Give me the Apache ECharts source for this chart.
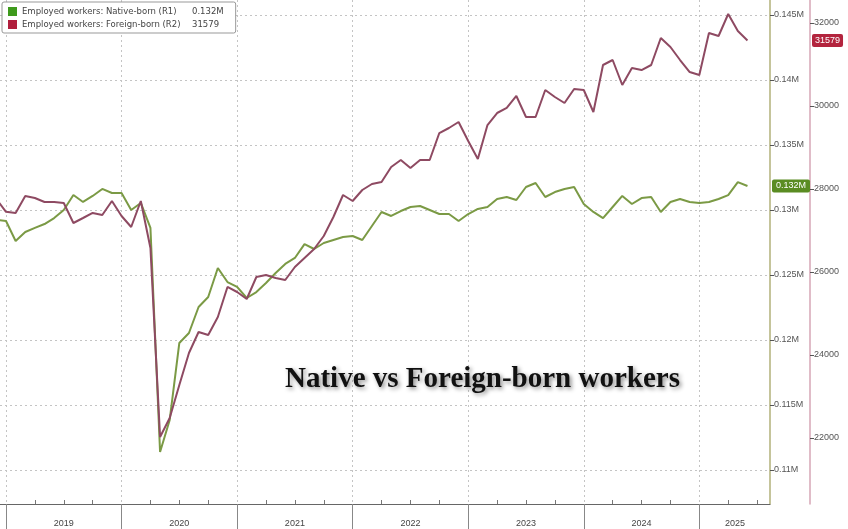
<!DOCTYPE html>
<html><head><meta charset="utf-8">
<script src="https://cdn.jsdelivr.net/npm/echarts@6/dist/echarts.min.js"></script>
<style>html,body{margin:0;padding:0;background:#fff}#c{width:848px;height:529px}</style>
</head><body><div id="c"></div>
<script>
// Months: Nov 2018 .. May 2025 (points plotted at month end; Dec 2018 end = start of 2019)
const nativeName = 'Employed workers: Native-born (R1)';
const foreignName = 'Employed workers: Foreign-born (R2)';
const firstMonthOffset = -1; // Nov 2018 sits one month before the 2019 boundary

const native = [
  0.12925, 0.12915,
  0.12762,0.12831,0.12862,0.12892,0.12938,0.13000,0.13115,0.13062,0.13108,0.13162,0.13131,0.13131,
  0.13000,0.13054,0.12862,0.11138,0.11385,0.11977,0.12054,0.12254,0.12331,0.12554,0.12446,0.12408,
  0.12323,0.12369,0.12438,0.12515,0.12585,0.12631,0.12738,0.12700,0.12746,0.12769,0.12792,0.12800,
  0.12769,0.12877,0.12985,0.12954,0.12992,0.13023,0.13031,0.13000,0.12969,0.12969,0.12915,0.12969,
  0.13008,0.13023,0.13085,0.13100,0.13077,0.13177,0.13208,0.13100,0.13138,0.13162,0.13177,0.13046,
  0.12985,0.12938,0.13023,0.13108,0.13046,0.13092,0.13100,0.12985,0.13062,0.13085,0.13062,0.13054,
  0.13062,0.13085,0.13115,0.13215,0.13185
];
const foreign = [
  27760, 27450,
  27422,27831,27783,27687,27687,27663,27181,27301,27422,27373,27711,27349,
  27084,27711,26578,22024,22482,23277,24048,24554,24482,24916,25639,25518,
  25350,25880,25928,25855,25807,26120,26337,26554,26867,27325,27855,27711,
  27976,28120,28169,28530,28699,28506,28699,28699,29349,29470,29614,29157,
  28723,29542,29831,29952,30241,29735,29735,30386,30217,30072,30410,30386,
  29855,30988,31108,30506,30916,30867,30988,31639,31422,31108,30819,30747,
  31759,31687,32217,31807,31579
];
const years = ['2019','2020','2021','2022','2023','2024','2025'];
const yearBoundaries = [0,12,24,36,48,60,72];
const yearLabelPos = [6,18,30,42,54,66,75.7];
const quarterTicks = [3,6,9,15,18,21,27,30,33,39,42,45,51,54,57,63,66,69,75,78];
const nativeTicks = [0.11,0.115,0.12,0.125,0.13,0.135,0.14,0.145];
const foreignTicks = [22000,24000,26000,28000,30000,32000];

const toPts = arr => arr.map((v, i) => [i + firstMonthOffset, v]);
const fmtN = v => String(+(+v).toFixed(3)) + 'M';
const lastN = native[native.length - 1];
const lastF = foreign[foreign.length - 1];

const chart = echarts.init(document.getElementById('c'));
const labelFont = 'Liberation Sans';
chart.setOption({
  animation: false,
  backgroundColor: '#fff',
  grid: { left: 0, right: 78, top: 0, bottom: 25, containLabel: false },
  title: {
    text: 'Native vs Foreign-born workers',
    left: 280, top: 360,
    textStyle: {
      fontFamily: 'Liberation Serif', fontWeight: 'bold', fontSize: 29, color: '#111',
      textShadowColor: 'rgba(0,0,0,0.45)', textShadowBlur: 4, textShadowOffsetX: 2, textShadowOffsetY: 2
    }
  },
  legend: {
    left: 2, top: 2, orient: 'vertical',
    backgroundColor: '#fff', borderColor: '#999', borderWidth: 1, borderRadius: 2,
    padding: [5, 12, 4, 6], itemGap: 4, itemWidth: 9, itemHeight: 9, icon: 'rect',
    data: [
      { name: nativeName, itemStyle: { color: '#3e9a1c' } },
      { name: foreignName, itemStyle: { color: '#b01e3c' } }
    ],
    formatter: name => {
      const v = name === nativeName ? fmtN(lastN) : String(Math.round(lastF));
      return '{n|' + name + '}{v|' + v + '}';
    },
    textStyle: {
      rich: {
        n: { width: 170, fontSize: 8.5, color: '#444', fontFamily: 'DejaVu Sans' },
        v: { fontSize: 8.5, color: '#444', fontFamily: 'DejaVu Sans' }
      }
    }
  },
  xAxis: [
    {
      type: 'value', min: -0.623, max: 79.34, position: 'bottom',
      axisLine: { show: true, onZero: false, lineStyle: { color: '#666', width: 1 } },
      axisTick: { show: true, customValues: yearBoundaries, length: 25, inside: false, lineStyle: { color: '#888' } },
      axisLabel: {
        show: true, customValues: yearLabelPos, margin: 15, color: '#444', fontSize: 9, fontFamily: labelFont,
        formatter: v => years[Math.floor(v / 12)]
      },
      splitLine: { show: true, lineStyle: { color: '#c4c4c4', type: [2, 3], width: 1 } }
    },
    {
      type: 'value', min: -0.623, max: 79.34, position: 'bottom',
      axisLine: { show: false, onZero: false },
      axisTick: { show: true, customValues: quarterTicks, length: 4, inside: true, lineStyle: { color: '#777' } },
      axisLabel: { show: false },
      splitLine: { show: false }
    }
  ],
  yAxis: [
    {
      type: 'value', position: 'right', min: 0.107385, max: 0.146154,
      axisLine: { show: true, onZero: false, lineStyle: { color: '#b2b07a', width: 1.5 } },
      axisTick: { show: true, customValues: nativeTicks, length: 4, lineStyle: { color: '#555' } },
      axisLabel: { show: true, customValues: nativeTicks, formatter: v => fmtN(v), color: '#555', fontSize: 9, fontFamily: labelFont, margin: 4 },
      splitLine: { show: true, lineStyle: { color: '#c4c4c4', type: [2, 3], width: 1 } },
      axisPointer: {
        show: true, value: lastN, status: 'show', triggerTooltip: false, snap: false,
        lineStyle: { opacity: 0 },
        label: {
          show: true, formatter: p => fmtN(p.value), backgroundColor: '#5a8c22', color: '#fff',
          fontSize: 9, fontFamily: labelFont, padding: [2, 4], margin: 2, borderRadius: 2
        }
      }
    },
    {
      type: 'value', position: 'right', offset: 40, min: 20410, max: 32554,
      axisLine: { show: true, onZero: false, lineStyle: { color: '#d6a6b6', width: 1.5 } },
      axisTick: { show: true, customValues: foreignTicks, length: 4, lineStyle: { color: '#555' } },
      axisLabel: { show: true, customValues: foreignTicks, formatter: v => String(v), color: '#555', fontSize: 9, fontFamily: labelFont, margin: 4 },
      splitLine: { show: false },
      axisPointer: {
        show: true, value: lastF, status: 'show', triggerTooltip: false, snap: false,
        lineStyle: { opacity: 0 },
        label: {
          show: true, formatter: p => String(Math.round(p.value)), backgroundColor: '#b3243e', color: '#fff',
          fontSize: 9, fontFamily: labelFont, padding: [2, 3], margin: 2, borderRadius: 2
        }
      }
    }
  ],
  series: [
    {
      name: nativeName, type: 'line', xAxisIndex: 0, yAxisIndex: 0, showSymbol: false,
      data: toPts(native), itemStyle: { color: '#3e9a1c' },
      lineStyle: { color: '#7b9a45', width: 2 }, z: 3
    },
    {
      name: foreignName, type: 'line', xAxisIndex: 0, yAxisIndex: 1, showSymbol: false,
      data: toPts(foreign), itemStyle: { color: '#b01e3c' },
      lineStyle: { color: '#8e4a62', width: 2 }, z: 4
    }
  ]
});
</script></body></html>
